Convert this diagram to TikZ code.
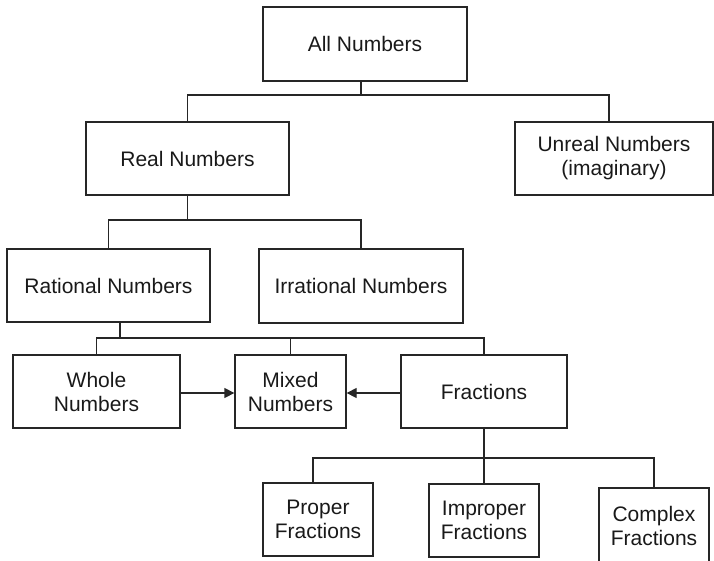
\documentclass[tikz,border=0pt]{standalone}
\usepackage{fontspec}
\setmainfont{Liberation Sans}
\usetikzlibrary{calc, arrows.meta}
\tikzset{
  box/.style={draw=black!85, line width=1.3pt, align=center, inner sep=0pt,
    minimum height=73pt, font=\fontsize{21}{24}\selectfont, text=black!90},
  link/.style={draw=black!85, line width=1.3pt},
}

\begin{document}
\begin{tikzpicture}[x=1pt,y=-1pt]
            \useasboundingbox (0,0) rectangle (714,560);
            \node[box, minimum width=204pt, minimum height=74pt] (all) at (365,44) {All Numbers};
            \node[box, minimum width=203pt] (real) at (187.5,158.5) {Real Numbers};
            \node[box, minimum width=198pt] (unreal) at (614,158.5) {Unreal Numbers\\(imaginary)};
            \node[box, minimum width=203pt] (rational) at (108.5,285.5) {Rational Numbers};
            \node[box, minimum width=204pt, minimum height=74pt] (irrational) at (361,286) {Irrational Numbers};
            \node[box, minimum width=167pt] (whole) at (96.5,391.5) {Whole\\Numbers};
            \node[box, minimum width=111pt] (mixed) at (290.5,391.5) {Mixed\\Numbers};
            \node[box, minimum width=166pt] (fractions) at (484,391.5) {Fractions};
            \node[box, minimum width=110pt] (proper) at (318,519.5) {Proper\\Fractions};
            \node[box, minimum width=110pt] (improper) at (484,520.5) {Improper\\Fractions};
            \node[box, minimum width=110pt, minimum height=76pt] (complex) at (654,526) {Complex\\Fractions};
            \coordinate (b1) at (0,95);
            \coordinate (b2) at (0,220);
            \coordinate (b3) at (0,338);
            \coordinate (b4) at (0,458);
            \draw[link] ([xshift=-4pt]all.south) -- ([xshift=-4pt]all.south |- b1);
            \draw[link] (real.north) |- ([xshift=-5pt]unreal.north |- b1) -- ([xshift=-5pt]unreal.north);
            \draw[link] (real.south) -- (real.south |- b2);
            \draw[link] (rational.north) |- (irrational.north |- b2) -- (irrational.north);
            \draw[link] ([xshift=11.5pt]rational.south) -- ([xshift=11.5pt]rational.south |- b3);
            \draw[link] (whole.north) |- (fractions.north |- b3) -- (fractions.north);
            \draw[link] (mixed.north) -- (mixed.north |- b3);
            \draw[link] (fractions.south) -- (fractions.south |- b4);
            \draw[link] ([xshift=-5pt]proper.north) |- (complex.north |- b4) -- (complex.north);
            \draw[link] (improper.north) -- (improper.north |- b4);
            \draw[link,-{Triangle[length=10pt,width=10pt]}] ([yshift=-1.5pt]whole.east) -- ([yshift=-1.5pt]mixed.west);
            \draw[link,-{Triangle[length=10pt,width=10pt]}] ([yshift=-1.5pt]fractions.west) -- ([yshift=-1.5pt]mixed.east);
        \end{tikzpicture}
\end{document}
